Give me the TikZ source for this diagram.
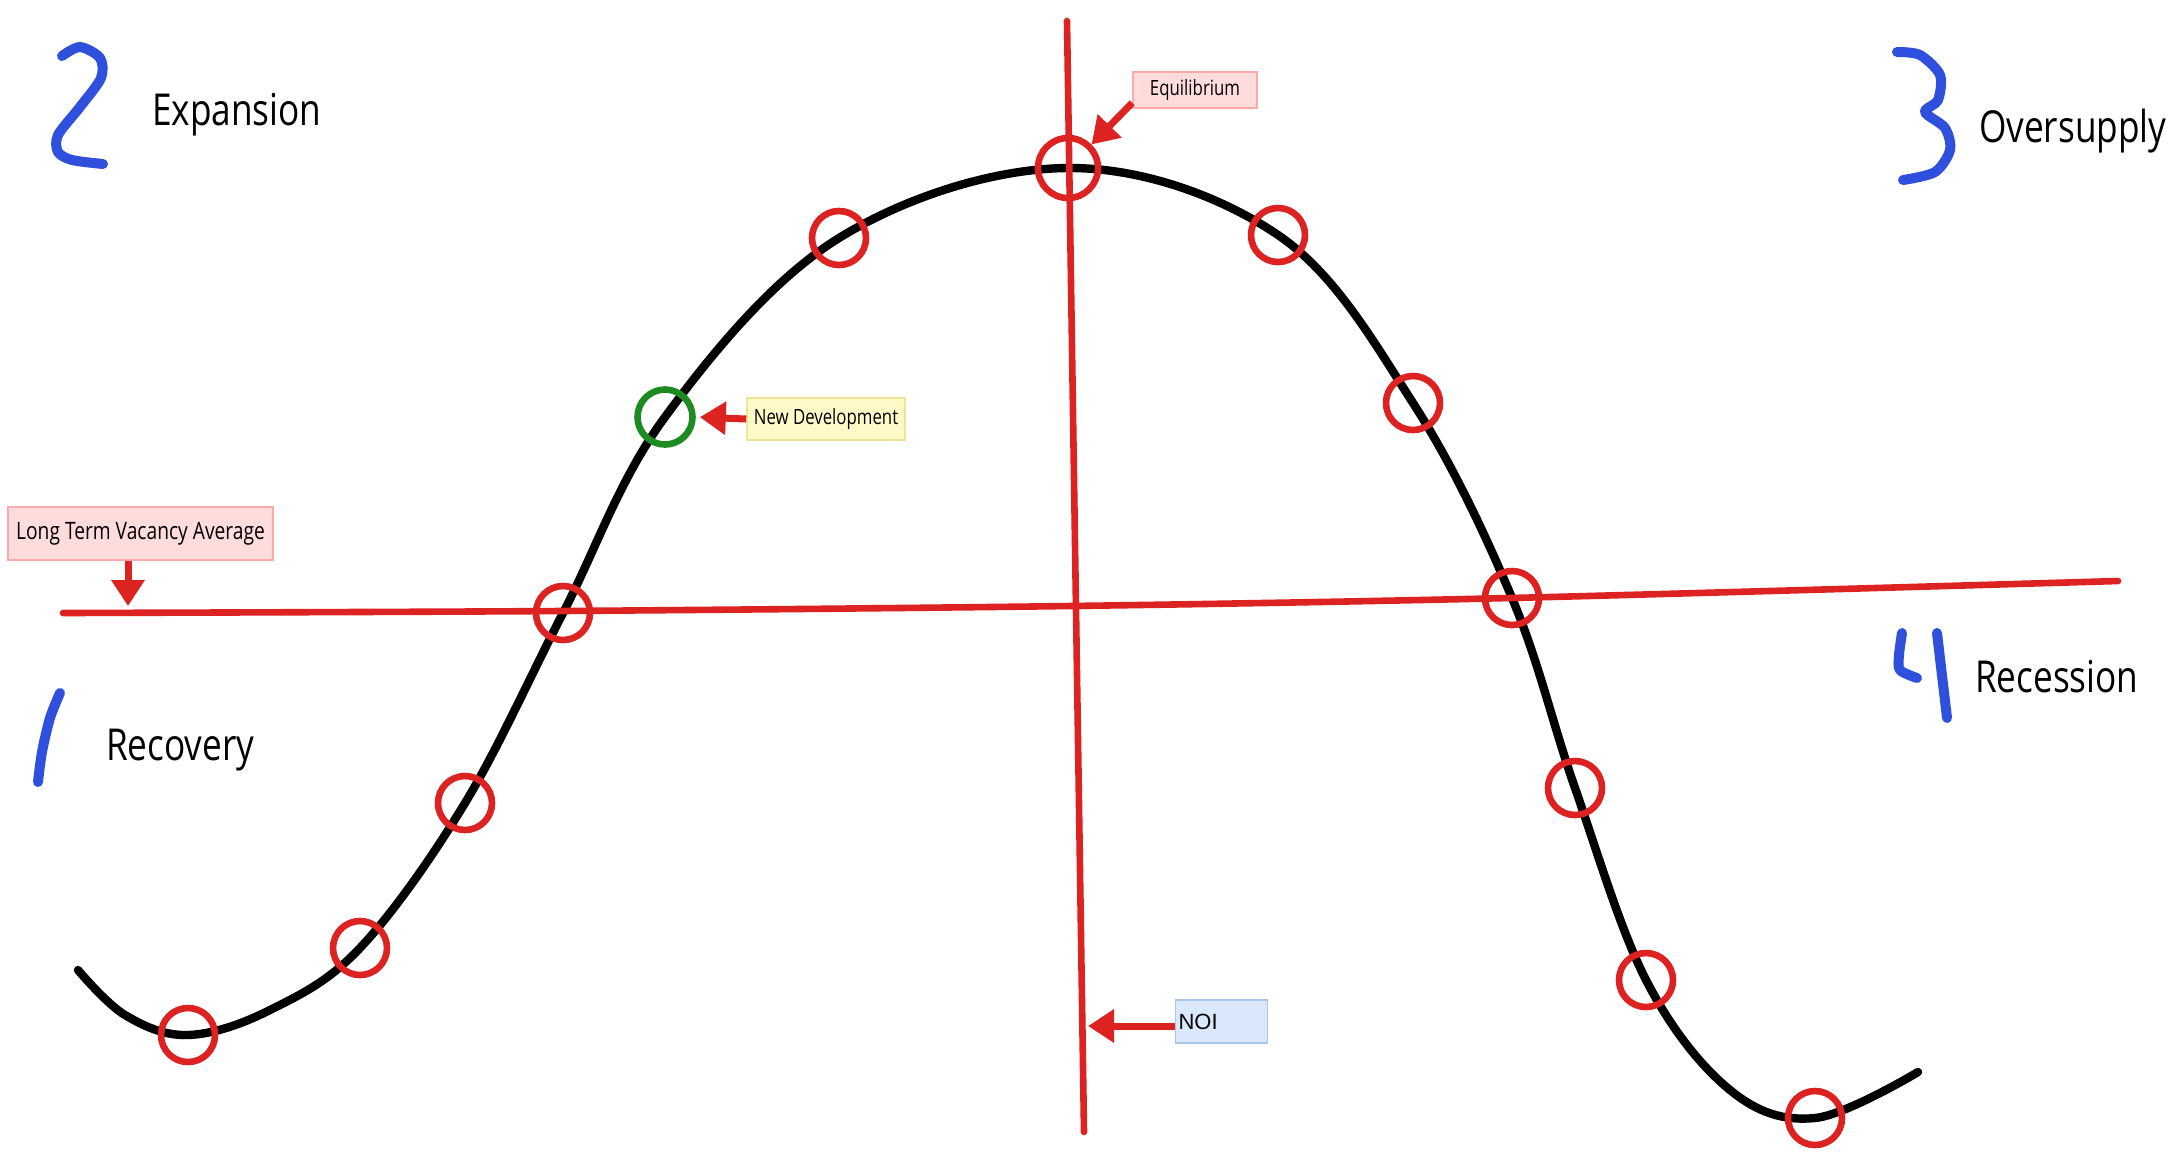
\documentclass[tikz,border=0pt]{standalone}
\usepackage{fontspec}
\setmainfont{Open Sans}[FakeStretch=0.8]
\newfontfamily\noifont{Liberation Sans}
\usetikzlibrary{arrows.meta}
\definecolor{cyred}{RGB}{221,34,34}
\definecolor{cygreen}{RGB}{30,138,34}
\definecolor{cyblue}{RGB}{46,80,220}
\definecolor{eqfill}{RGB}{255,220,220}
\definecolor{eqline}{RGB}{255,170,170}
\definecolor{ndfill}{RGB}{255,249,200}
\definecolor{ndline}{RGB}{242,228,150}
\definecolor{noifill}{RGB}{218,232,252}
\definecolor{noiline}{RGB}{169,196,235}
\tikzset{
  ring/.style={circle,draw=cyred,line width=3.3pt,minimum size=27pt,inner sep=0pt},
  digit/.style={draw=cyblue,line width=5pt,line cap=round,line join=round},
  phase/.style={anchor=base west,font=\fontsize{22}{26}\selectfont},
  axisline/.style={draw=cyred,line width=3.3pt,line cap=round},
  redarrow/.style={draw=cyred,line width=3.5pt,-{Triangle[length=13pt,width=16pt]}},
  tag/.style={rectangle,line width=0.8pt,inner sep=1pt}
}
\begin{document}
\begin{tikzpicture}[x=0.5pt,y=-0.5pt]
    \useasboundingbox (0,0) rectangle (2178,1153);

    % 周期曲线
    \draw[black,line width=4.2pt,line cap=round] plot[smooth,tension=0.6] coordinates {
      (78,970) (125,1015) (188,1035) (270,1010) (360,948) (465,803) (563,613)
      (665,417) (839,238) (1068,168) (1278,235) (1413,403) (1512,598)
      (1575,788) (1646,980) (1730,1090) (1815,1118) (1918,1072)};

    % 两条红色轴线
    \coordinate (vtop) at (1067,21);
    \coordinate (vbot) at (1084,1132);
    \draw[axisline] (vtop) -- (vbot);
    \draw[axisline] plot[smooth] coordinates {(63,613) (560,611) (1070,606) (1510,598) (2118,581)};

    % 圆圈
    \node[ring] (c1) at (188,1035) {};
    \node[ring] (c2) at (360,948) {};
    \node[ring] (c3) at (465,803) {};
    \node[ring] (c4) at (563,613) {};
    \node[ring,draw=cygreen,minimum size=27.5pt] (cnew) at (665,417) {};
    \node[ring] (c5) at (839,238) {};
    \node[ring,minimum size=30pt] (cpeak) at (1068,168) {};
    \node[ring] (c6) at (1278,235) {};
    \node[ring] (c7) at (1413,403) {};
    \node[ring] (c8) at (1512,598) {};
    \node[ring] (c9) at (1575,788) {};
    \node[ring] (c10) at (1646,980) {};
    \node[ring] (c11) at (1815,1118) {};

    % 四个阶段
    \draw[digit] plot[smooth] coordinates {(62,56) (80,47) (100,58) (101,78) (80,107) (58,135) (58,152) (72,160) (103,164)};
    \node[phase] (expansion) at (145,125) {Expansion};
    \draw[digit] plot[smooth] coordinates {(1897,52) (1920,55) (1940,75) (1938,100) (1925,112) (1945,128) (1950,150) (1935,172) (1903,180)};
    \node[phase] (oversupply) at (1972,142) {Oversupply};
    \draw[digit] plot[smooth] coordinates {(60,693) (50,718) (42,752) (38,782)};
    \node[phase] (recovery) at (99,760) {Recovery};
    \draw[digit] plot[smooth] coordinates {(1902,633) (1899,655) (1900,670) (1917,678)};
    \draw[digit] (1937,633) -- (1947,718);
    \node[phase] (recession) at (1968,692) {Recession};

    % 标签与箭头
    \node[tag,fill=eqfill,draw=eqline,minimum width=62pt,minimum height=18pt,
      font=\fontsize{10.5}{12}\selectfont] (eqbox) at (1195,90) {Equilibrium};
    \draw[redarrow] ([yshift=3pt]eqbox.south west) -- (cpeak.45);

    \node[tag,fill=ndfill,draw=ndline,minimum width=79pt,minimum height=21pt,
      font=\fontsize{10.5}{12}\selectfont] (ndbox) at (826,419) {New Development};
    \draw[redarrow,shorten >=2pt] (ndbox.west) -- (cnew.east);

    \node[tag,fill=eqfill,draw=eqline,minimum width=132.5pt,minimum height=26.5pt,
      font=\fontsize{12}{14}\selectfont] (lvbox) at (140.5,533.5) {Long Term Vacancy Average};
    \coordinate (lvtip) at (128,606);
    \draw[redarrow] (lvbox.south -| lvtip) -- (lvtip);

    \node[tag,fill=noifill,draw=noiline,text width=43pt,align=left,minimum height=21.5pt,
      inner xsep=1.5pt,font=\noifont\fontsize{11}{12}\selectfont] (noibox) at (1221.5,1021.5) {NOI};
    \coordinate (noitip) at (1088,1026);
    \draw[redarrow] (noibox.west |- noitip) -- (noitip);
\end{tikzpicture}
\end{document}
